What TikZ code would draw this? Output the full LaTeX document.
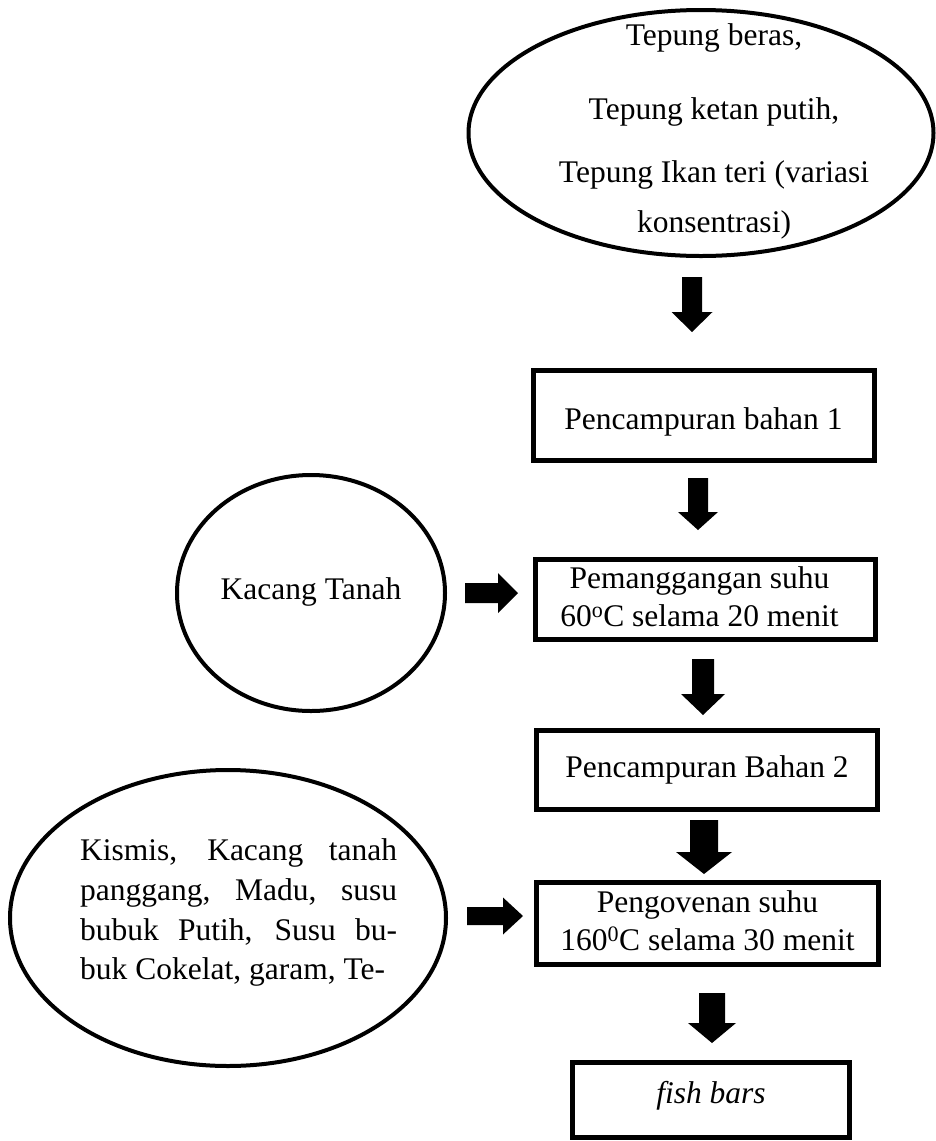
\documentclass[tikz,border=0pt]{standalone}
\usepackage{fontspec}
\setmainfont{Liberation Serif}
\usetikzlibrary{shapes.geometric}
\newcommand{\fsz}{\fontsize{31.5}{38}\selectfont}
% block arrow pointing down: #1 start coordinate (top centre), #2 length, #3 shaft width, #4 head width, #5 head length
\newcommand{\blkdown}[5]{%
  \fill (#1) ++({-#3/2},0) -- ++(0,{#2-#5}) -- ++({-(#4-#3)/2},0) -- ++({#4/2},#5)
     -- ++({#4/2},{-#5}) -- ++({-(#4-#3)/2},0) -- ++(0,{-(#2-#5)}) -- cycle;}
% block arrow pointing right: #1 start coordinate (left centre)
\newcommand{\blkright}[5]{%
  \fill (#1) ++(0,{-#3/2}) -- ++({#2-#5},0) -- ++(0,{-(#4-#3)/2}) -- ++(#5,{#4/2})
     -- ++({-#5},{#4/2}) -- ++(0,{-(#4-#3)/2}) -- ++({-(#2-#5)},0) -- cycle;}
\begin{document}
\begin{tikzpicture}[x=1pt,y=-1pt,
  ell/.style={draw, line width=4pt, ellipse, inner sep=0pt},
  boxst/.style={draw, line width=5pt, rectangle, inner sep=0pt, align=center, font=\fsz},
  txt/.style={inner sep=0pt, font=\fsz}]
\useasboundingbox (0,0) rectangle (936,1141);

% top ellipse
\node[ell, minimum width=465pt, minimum height=246pt] (e1) at (701,133) {};
\node[txt] (e1a) at (714,38) {\strut Tepung beras,};
\node[txt] (e1b) at (714,112) {\strut Tepung ketan putih,};
\node[txt] (e1c) at (714,175) {\strut Tepung Ikan teri (variasi};
\node[txt] (e1d) at (714,225) {\strut konsentrasi)};

% process boxes
\node[boxst, minimum width=341pt, minimum height=90pt] (b1) at (703.5,415.5)
  {\raisebox{-6pt}[26.6pt][11.4pt]{Pencampuran bahan 1}};
\node[boxst, minimum width=340pt, minimum height=80pt] (b2) at (705.5,599.5)
  {\strut Pemanggangan suhu\hspace*{12pt}\\\strut 60\textsuperscript{o}C selama 20 menit\hspace*{12pt}};
\node[boxst, minimum width=341pt, minimum height=79pt] (b3) at (707,770) {\strut Pencampuran Bahan 2};
\node[boxst, minimum width=342pt, minimum height=82pt] (b4) at (707.5,923.5)
  {\strut Pengovenan suhu\\\strut 160\textsuperscript{0}C selama 30 menit};
\node[boxst, minimum width=277pt, minimum height=75pt] (b5) at (711,1100)
  {\raisebox{4pt}[26.6pt][11.4pt]{\textit{fish bars}}};

% side ellipses
\node[ell, minimum width=268pt, minimum height=236pt] (e2) at (311,593) {};
\node[txt] (e2t) at (311,592) {\strut Kacang Tanah};

\node[ell, minimum width=436pt, minimum height=296pt] (e3) at (228,918) {};
\node[txt, anchor=west] (e3a) at (80,853) {\makebox[317pt][s]{\strut Kismis, Kacang tanah}};
\node[txt, anchor=west] (e3b) at (80,893) {\makebox[317pt][s]{\strut panggang, Madu, susu}};
\node[txt, anchor=west] (e3c) at (80,933) {\makebox[317pt][s]{\strut bubuk Putih, Susu bu-}};
\node[txt, anchor=west] (e3d) at (80,972) {\strut buk Cokelat, garam, Te-};

% arrow start points
\coordinate (a1) at (692,277);
\coordinate (a2) at (698,478);
\coordinate (a3) at (703,659);
\coordinate (a4) at (704,820);
\coordinate (a5) at (712,993);
\coordinate (ak) at (465,593);
\coordinate (am) at (467,916);

\blkdown{a1}{55}{20}{41}{20}
\blkdown{a2}{52}{20}{40}{18}
\blkdown{a3}{56}{22}{44}{21}
\blkdown{a4}{54}{28}{56}{22}
\blkdown{a5}{50}{26}{48}{20}
\blkright{ak}{53}{20}{40}{20}
\blkright{am}{56}{18}{37}{20}
\end{tikzpicture}
\end{document}
